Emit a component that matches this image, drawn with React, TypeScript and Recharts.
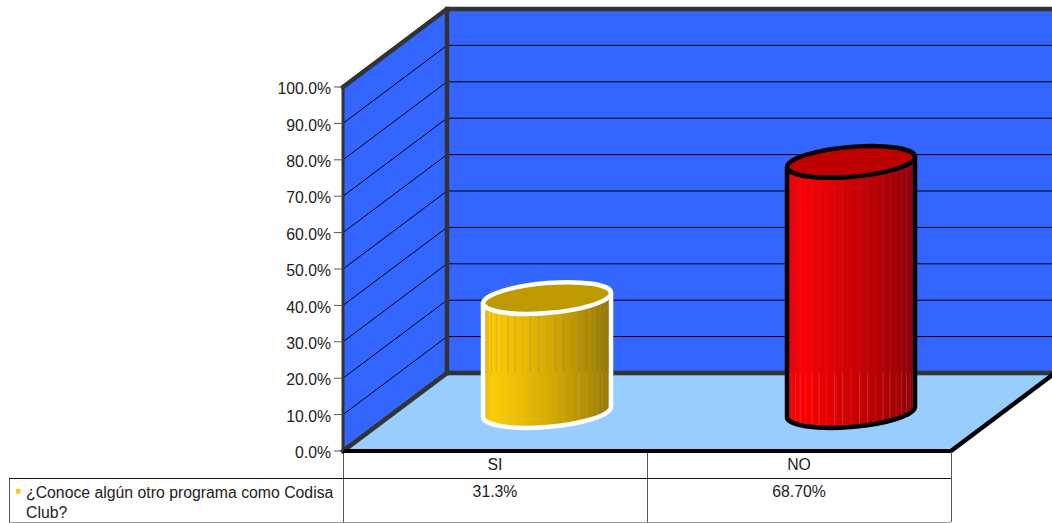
import React from 'react'
import { BarChart, Bar, XAxis, YAxis, ReferenceArea, Customized, usePlotArea } from 'recharts'

const categories = ['SI', 'NO']
const responses = [31.3, 68.7]
const responseLabels = ['31.3%', '68.70%']
const yTicks = [0, 10, 20, 30, 40, 50, 60, 70, 80, 90, 100]
const seriesName = ['¿Conoce algún otro programa como Codisa', 'Club?']

const chartData = categories.map((name, i) => ({ name, value: responses[i], label: responseLabels[i] }))

const WIDTH = 1052
const HEIGHT = 523
const FONT = '"Liberation Sans", Arial, sans-serif'
const FONT_SIZE = 15.8

// how far the back wall sits behind the front plane of the plot
const DEPTH_X = 104
const DEPTH_Y = 78

const WALL = '#3366ff'
const FLOOR = '#99ccff'
const EDGE = '#333333'

const barStyles = [
  {
    id: 'goldBody',
    stroke: '#ffffff',
    top: '#bf9900',
    stops: [['0%', '#e8ba00'], ['7%', '#ffcc00'], ['50%', '#d9ad00'], ['85%', '#ad8a00'], ['100%', '#967800']],
  },
  {
    id: 'redBody',
    stroke: '#000000',
    top: '#bf0000',
    stops: [['0%', '#e60000'], ['10%', '#ff0000'], ['50%', '#d10000'], ['85%', '#a80000'], ['100%', '#8c0000']],
  },
]

// Side wall, back wall and floor, with the value lines running across both walls
const Room = ({ x, y, width, height }: any) => {
  const bx = x + DEPTH_X
  const bottom = y + height
  const floorBack = bottom - DEPTH_Y
  return (
    <g>
      <polygon points={`${x},${y} ${bx},${y - DEPTH_Y} ${bx},${floorBack} ${x},${bottom}`} fill={WALL} />
      <rect x={bx} y={y - DEPTH_Y} width={x + width + DEPTH_X - bx} height={height} fill={WALL} />
      <polygon points={`${x},${bottom} ${x + width},${bottom} ${x + width + DEPTH_X},${floorBack} ${bx},${floorBack}`} fill={FLOOR} />
      {yTicks.slice(1, -1).map((t) => {
        const ly = bottom - (height * t) / 100
        return (
          <g key={t} stroke="#000000" strokeWidth={1} fill="none">
            <line x1={x} y1={ly} x2={bx} y2={ly - DEPTH_Y} />
            <line x1={bx} y1={ly - DEPTH_Y} x2={x + width + DEPTH_X} y2={ly - DEPTH_Y} />
          </g>
        )
      })}
      <g stroke={EDGE} strokeWidth={4.5} fill="none" strokeLinecap="square">
        <path d={`M${x},${y} L${bx},${y - DEPTH_Y} H${x + width + DEPTH_X}`} />
        <line x1={bx} y1={y - DEPTH_Y} x2={bx} y2={floorBack} />
        <line x1={bx} y1={floorBack} x2={x + width + DEPTH_X} y2={floorBack} />
        <line x1={x} y1={bottom} x2={bx} y2={floorBack} />
      </g>
      <line x1={x + width} y1={bottom} x2={x + width + DEPTH_X} y2={floorBack} stroke="#000000" strokeWidth={4.5} />
    </g>
  )
}

// Cylinder standing halfway into the room, slightly sheared like the original 3D view
const Cylinder = ({ x, y, width, height, index }: any) => {
  const style = barStyles[index]
  const a = width / 2
  const b = 15
  const cx = x + a + DEPTH_X / 2
  const top = y - DEPTH_Y / 2
  const base = y + height - DEPTH_Y / 2
  const floorBack = y + height - DEPTH_Y
  const shear = -0.08

  const stripes = []
  for (let k = 1; k < 24; k++) {
    const theta = (Math.PI * k) / 24
    const u = -a * Math.cos(theta)
    const dy = b * Math.sin(theta)
    const split = floorBack - shear * u
    stripes.push(
      <g key={k} strokeWidth={0.8} opacity={k % 3 === 0 ? 0.15 : 0.3}>
        <line x1={u} x2={u} y1={top + dy} y2={Math.min(split, base + dy)} stroke={WALL} />
        <line x1={u} x2={u} y1={Math.max(split, top + dy)} y2={base + dy} stroke={FLOOR} />
      </g>,
    )
  }

  return (
    <g transform={`translate(${cx},0) matrix(1,${shear},0,1,0,0)`}>
      <defs>
        <linearGradient id={style.id} x1="0" y1="0" x2="1" y2="0">
          {style.stops.map(([offset, color]) => (
            <stop key={offset} offset={offset} stopColor={color} />
          ))}
        </linearGradient>
      </defs>
      <path d={`M${-a},${top} V${base} A${a},${b} 0 0 0 ${a},${base} V${top} A${a},${b} 0 0 1 ${-a},${top} Z`} fill={`url(#${style.id})`} />
      {stripes}
      <path d={`M${-a},${top} V${base} A${a},${b} 0 0 0 ${a},${base} V${top}`} fill="none" stroke={style.stroke} strokeWidth={4.5} />
      <ellipse cx={0} cy={top} rx={a} ry={b} fill={style.top} stroke={style.stroke} strokeWidth={4.5} />
    </g>
  )
}

// Category label plus the value row of the data table
const TableTick = ({ x, payload, index }: any) => (
  <g fontFamily={FONT} fontSize={FONT_SIZE} fill="#222222">
    <text x={x} y={470} textAnchor="middle" fill="#222222">{payload.value}</text>
    <text x={x} y={497} textAnchor="middle" fill="#222222">{responseLabels[index]}</text>
  </g>
)

const DataTable = () => {
  const plot = usePlotArea()
  if (!plot) return null
  const { x, y, width, height } = plot
  const bottom = y + height
  const headerLine = bottom + 27
  const tableBottom = bottom + 71
  const left = 9
  return (
    <g>
      <g stroke="#555555" strokeWidth={1} fill="none">
        {[0, 1, 2].map((i) => (
          <line key={i} x1={x + (width * i) / 2 + 0.5} y1={bottom} x2={x + (width * i) / 2 + 0.5} y2={tableBottom} />
        ))}
        <line x1={left + 0.5} y1={headerLine} x2={left + 0.5} y2={tableBottom} />
        <line x1={left} y1={tableBottom + 0.5} x2={x + width} y2={tableBottom + 0.5} stroke="#999999" />
        <line x1={left} y1={headerLine + 0.5} x2={x + width} y2={headerLine + 0.5} stroke="#111111" />
      </g>
      <rect x={16} y={489} width={4.5} height={4.5} fill="#ffcc00" />
      <text fontFamily={FONT} fontSize={FONT_SIZE} fill="#222222">
        <tspan x={26} y={498}>{seriesName[0]}</tspan>
        <tspan x={26} y={517.5}>{seriesName[1]}</tspan>
      </text>
    </g>
  )
}

export default function App() {
  return (
    <div style={{ position: 'absolute', left: 0, top: 0, width: WIDTH, height: HEIGHT, overflow: 'hidden' }}>
      <BarChart
        width={WIDTH}
        height={HEIGHT}
        data={chartData}
        margin={{ top: 87, right: 101, bottom: 0, left: 0 }}
      >
        <XAxis
          dataKey="name"
          height={72}
          tickLine={false}
          interval={0}
          axisLine={{ stroke: '#000000', strokeWidth: 4 }}
          tick={<TableTick />}
        />
        <YAxis
          width={343}
          domain={[0, 100]}
          ticks={yTicks}
          tickFormatter={(v: number) => `${v.toFixed(1)}%`}
          tick={{ fontFamily: FONT, fontSize: FONT_SIZE, fill: '#222222', dy: 1.5 }}
          tickSize={9}
          tickMargin={3}
          tickLine={{ stroke: '#555555', strokeWidth: 1 }}
          axisLine={{ stroke: EDGE, strokeWidth: 3 }}
        />
        <ReferenceArea x1="SI" x2="NO" y1={0} y2={100} shape={<Room />} ifOverflow="visible" />
        <Bar dataKey="value" barSize={128} shape={<Cylinder />} isAnimationActive={false} />
        <Customized component={<DataTable />} />
      </BarChart>
    </div>
  )
}
